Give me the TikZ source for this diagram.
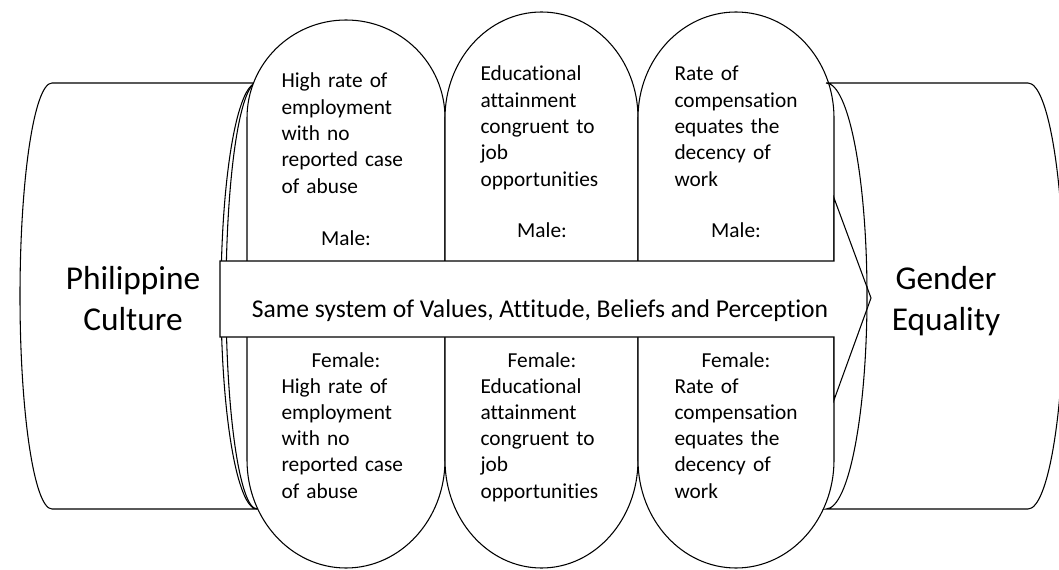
\documentclass[tikz,border=0pt]{standalone}
\usepackage{fontspec}
\setmainfont{Carlito}[Ligatures={NoCommon}]
\begin{document}
\begin{tikzpicture}[x=0.75pt,y=-0.75pt,line width=0.8pt,
    shapebox/.style={draw,fill=white},
    bigtext/.style={font=\fontsize{25}{30.75}\selectfont,inner sep=0pt,text width=150pt,align=center,anchor=base},
    coltext/.style={font=\fontsize{16}{19.7}\selectfont,inner sep=0pt,text width=130pt,align=left,anchor=base west},
    sextext/.style={font=\fontsize{16}{19.7}\selectfont,inner sep=0pt,anchor=base}]
  \useasboundingbox (0,0) rectangle (1059,570);
  % Philippine culture
  \draw[shapebox] (257,83) -- (52,83) arc[start angle=270,end angle=90,x radius=32,y radius=213]
    -- (257,509) arc[start angle=90,end angle=270,x radius=36,y radius=213] -- cycle;
  \draw (257,83) arc[start angle=270,end angle=90,x radius=31,y radius=213];
  \node[bigtext] (culture) at (133,289) {Philippine\\Culture};
  % three columns
  \draw[shapebox] (247,460) -- (247,118) arc[start angle=180,end angle=360,x radius=99,y radius=98]
    -- (445,460) arc[start angle=0,end angle=180,x radius=99,y radius=108] -- cycle;
  \draw[shapebox] (445,460) -- (445,118) arc[start angle=180,end angle=360,x radius=96.5,y radius=106]
    -- (638,460) arc[start angle=0,end angle=180,x radius=96.5,y radius=108] -- cycle;
  \draw[shapebox] (638,460) -- (638,118) arc[start angle=180,end angle=360,x radius=98,y radius=106]
    -- (834,460) arc[start angle=0,end angle=180,x radius=98,y radius=108] -- cycle;
  \node[coltext] (emp) at (281,88) {High rate of\\employment\\with no\\reported case\\of abuse};
  \node[sextext] (empm) at (346,245) {Male:};
  \node[coltext] (edu) at (480,81) {Educational\\attainment\\congruent to\\job\\opportunities};
  \node[sextext] (edum) at (542,238) {Male:};
  \node[coltext] (pay) at (674,81) {Rate of\\compensation\\equates the\\decency of\\work};
  \node[sextext] (paym) at (736,238) {Male:};
  \node[sextext] (empf) at (346,367) {Female:};
  \node[coltext] (empb) at (281,393) {High rate of\\employment\\with no\\reported case\\of abuse};
  \node[sextext] (eduf) at (542,367) {Female:};
  \node[coltext] (edub) at (480,393) {Educational\\attainment\\congruent to\\job\\opportunities};
  \node[sextext] (payf) at (736,367) {Female:};
  \node[coltext] (payb) at (674,393) {Rate of\\compensation\\equates the\\decency of\\work};
  % arrow
  \draw[shapebox] (220,261) -- (834,261) -- (834,198) -- (871,298) -- (834,400) -- (834,337) -- (220,337) -- cycle;
  \node[font=\fontsize{19.2}{23}\selectfont,inner sep=0pt,anchor=base] (values) at (540,317)
    {Same system of Values, Attitude, Beliefs and Perception};
  % gender equality
  \draw (826,83) -- (1028,83) arc[start angle=270,end angle=450,x radius=36,y radius=213]
    -- (826,509) arc[start angle=90,end angle=-90,x radius=41,y radius=213];
  \node[bigtext] (equality) at (946,289) {Gender\\Equality};
\end{tikzpicture}
\end{document}
